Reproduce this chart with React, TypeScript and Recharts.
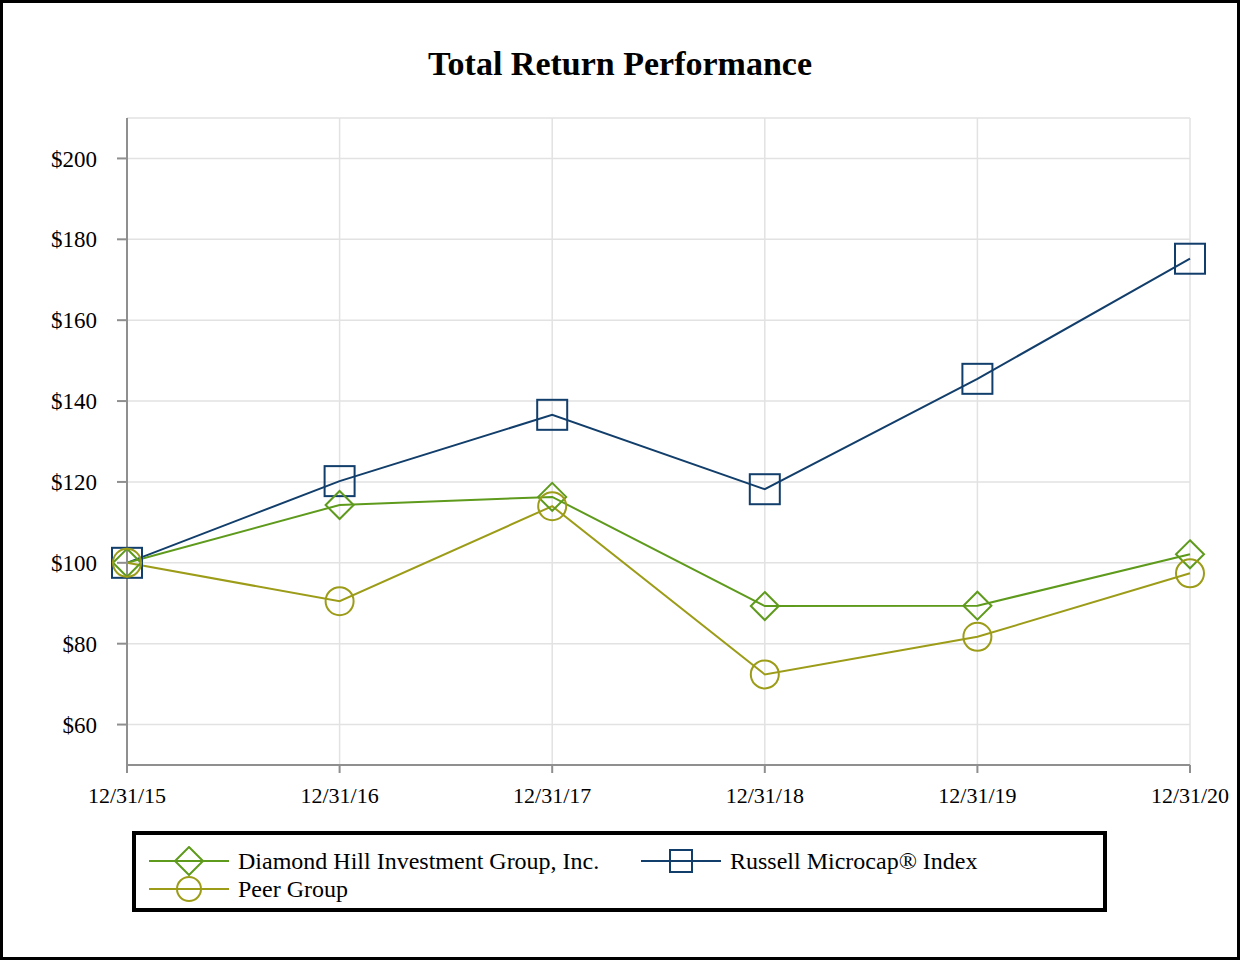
import { LineChart, Line, XAxis, YAxis, CartesianGrid } from 'recharts'

const years = ['12/31/15', '12/31/16', '12/31/17', '12/31/18', '12/31/19', '12/31/20']
const diamondHill = [100, 114.3, 116.3, 89.3, 89.4, 102.1]
const russell = [100, 120.2, 136.6, 118.2, 145.5, 175.2]
const peerGroup = [100, 90.5, 114.0, 72.4, 81.7, 97.4]
const yTicks = [60, 80, 100, 120, 140, 160, 180, 200]

const data = years.map((year, i) => ({
  year,
  dh: diamondHill[i],
  russell: russell[i],
  peer: peerGroup[i],
}))

const DH_COLOR = '#5e9a1c'
const RUSSELL_COLOR = '#123e6b'
const PEER_COLOR = '#9c9c18'
const FONT = '"Liberation Serif", "Times New Roman", serif'

function Diamond(props: any) {
  const { cx, cy, key } = props
  const r = 14
  return (
    <path key={key} d={`M${cx},${cy - r}L${cx + r},${cy}L${cx},${cy + r}L${cx - r},${cy}Z`}
      fill="none" stroke={DH_COLOR} strokeWidth={2} />
  )
}

function Square(props: any) {
  const { cx, cy, key } = props
  const h = 15
  return <rect key={key} x={cx - h} y={cy - h} width={h * 2} height={h * 2} fill="none" stroke={RUSSELL_COLOR} strokeWidth={2} />
}

function Circle(props: any) {
  const { cx, cy, key } = props
  return <circle key={key} cx={cx} cy={cy} r={14} fill="none" stroke={PEER_COLOR} strokeWidth={2} />
}

function LegendItem({ kind, color, label }: { kind: string; color: string; label: string }) {
  return (
    <div style={{ display: 'flex', alignItems: 'center', height: 28 }}>
      <svg width={82} height={30} style={{ marginRight: 8 }}>
        <line x1={1} y1={15} x2={81} y2={15} stroke={color} strokeWidth={2} />
        {kind === 'diamond' && <path d="M41,1L55,15L41,29L27,15Z" fill="none" stroke={color} strokeWidth={2} />}
        {kind === 'square' && <rect x={30} y={4} width={22} height={22} fill="none" stroke={color} strokeWidth={2} />}
        {kind === 'circle' && <circle cx={41} cy={15} r={12} fill="none" stroke={color} strokeWidth={2} />}
      </svg>
      <span style={{ fontSize: 24 }}>{label}</span>
    </div>
  )
}

export default function App() {
  return (
    <div style={{ position: 'relative', width: 1240, height: 960, fontFamily: FONT, background: '#fff' }}>
      <style>{'body{margin:0}'}</style>
      <div style={{ position: 'absolute', left: 0, top: 0, width: 1240, height: 960, boxSizing: 'border-box', border: '3px solid #000' }} />
      <div style={{ position: 'absolute', left: 0, top: 45, width: 1240, textAlign: 'center', fontSize: 34, fontWeight: 'bold' }}>
        Total Return Performance
      </div>
      <div style={{ position: 'absolute', left: 0, top: 0 }}>
        <LineChart width={1240} height={960} data={data} margin={{ top: 118, right: 50, bottom: 165, left: 0 }}>
          <CartesianGrid stroke="#e2e2e2" strokeWidth={1.5} />
          <XAxis dataKey="year" stroke="#8f8f8f" strokeWidth={2} tickSize={8} height={30}
            tick={{ fill: '#000', fontSize: 22, fontFamily: FONT }} tickMargin={14} />
          <YAxis domain={[50, 210]} ticks={yTicks} width={127} stroke="#8f8f8f" strokeWidth={2} tickSize={10}
            tickFormatter={(v: number) => `$${v}`} tick={{ fill: '#000', fontSize: 23, fontFamily: FONT }} tickMargin={20} />
          <Line dataKey="russell" stroke={RUSSELL_COLOR} strokeWidth={2} dot={Square} isAnimationActive={false} />
          <Line dataKey="dh" stroke={DH_COLOR} strokeWidth={2} dot={Diamond} isAnimationActive={false} />
          <Line dataKey="peer" stroke={PEER_COLOR} strokeWidth={2} dot={Circle} isAnimationActive={false} />
        </LineChart>
      </div>
      <div style={{ position: 'absolute', left: 132, top: 831, width: 975, height: 81, boxSizing: 'border-box', border: '4px solid #000', padding: '12px 0 0 12px' }}>
        <div style={{ display: 'flex' }}>
          <div style={{ width: 492 }}>
            <LegendItem kind="diamond" color={DH_COLOR} label="Diamond Hill Investment Group, Inc." />
          </div>
          <LegendItem kind="square" color={RUSSELL_COLOR} label="Russell Microcap® Index" />
        </div>
        <LegendItem kind="circle" color={PEER_COLOR} label="Peer Group" />
      </div>
    </div>
  )
}
